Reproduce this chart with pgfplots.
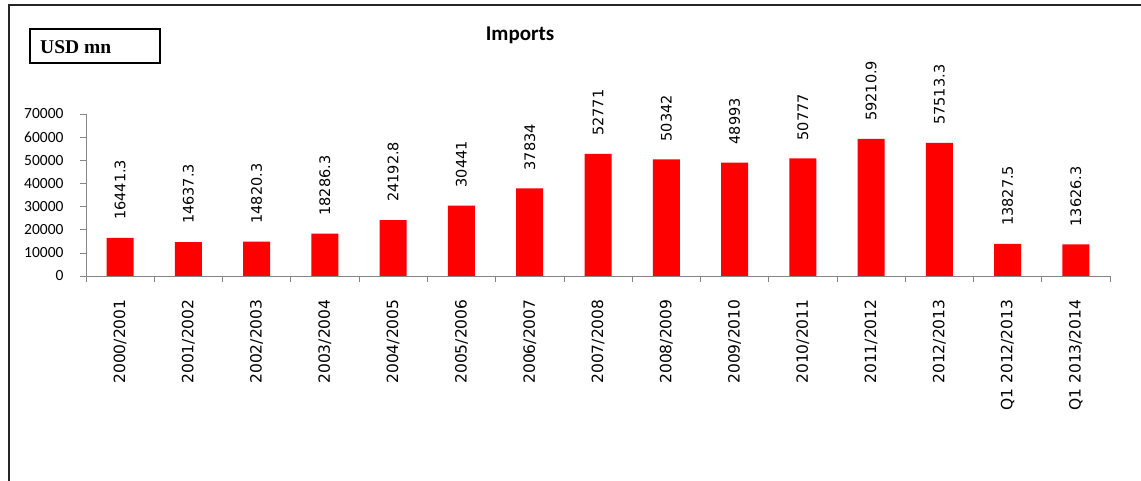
\documentclass[border=0pt]{standalone}
\usepackage{fontspec}
\setmainfont{Liberation Serif}
\newfontfamily\dejavu{DejaVu Sans}
\newfontfamily\carlito{Carlito}
\usepackage{pgfplots}
\pgfplotsset{compat=1.18}
\definecolor{axgray}{RGB}{134,134,134}
\begin{document}
\begin{tikzpicture}
\useasboundingbox (0pt,0pt) rectangle (1141pt,481pt);
\draw[line width=1.6pt, black!85] (9pt,-5pt) -- (9pt,476pt) -- (1150pt,476pt);
\draw[line width=1.2pt] (30pt,418pt) rectangle (160pt,452pt);
\node[anchor=west, font=\bfseries\fontsize{19.5}{22}\selectfont, inner sep=0] at (40pt,434pt) {USD mn};
\node[font=\carlito\bfseries\fontsize{21}{24}\selectfont] at (520pt,446pt) {Imports};
\begin{axis}[
  at={(86pt,205pt)}, anchor=south west,
  scale only axis, width=1024pt, height=162pt,
  xmin=-0.5, xmax=14.5, ymin=0, ymax=70000,
  ytick={0,10000,...,70000},
  scaled y ticks=false,
  yticklabel style={/pgf/number format/1000 sep={}, /pgf/number format/assume math mode=true, font=\carlito\fontsize{15.5}{17}\selectfont},
  yticklabel shift=13pt,
  xtick={0,...,14},
  xticklabels={2000/2001,2001/2002,2002/2003,2003/2004,2004/2005,2005/2006,2006/2007,2007/2008,2008/2009,2009/2010,2010/2011,2011/2012,2012/2013,Q1 2012/2013,Q1 2013/2014},
  xticklabel style={rotate=90, anchor=east, font=\dejavu\fontsize{15.5}{17}\selectfont},
  xticklabel shift=14pt,
  major x tick style={draw=none},
  minor xtick={-0.5,0.5,...,14.5},
  tick align=outside,
  tick style={axgray, line width=0.7pt},
  major tick length=6pt, minor tick length=6pt,
  axis x line*=bottom, axis y line*=left,
  axis line style={axgray, line width=0.8pt},
  ybar, bar width=27pt,
  nodes near coords, point meta=explicit symbolic,
  every node near coord/.append style={rotate=90, anchor=west, font=\dejavu\fontsize{14.5}{16}\selectfont, inner xsep=18pt, black},
]
\addplot[fill=red, draw=none] coordinates {
(0,16441.3) [16441.3]
(1,14637.3) [14637.3]
(2,14820.3) [14820.3]
(3,18286.3) [18286.3]
(4,24192.8) [24192.8]
(5,30441) [30441]
(6,37834) [37834]
(7,52771) [52771]
(8,50342) [50342]
(9,48993) [48993]
(10,50777) [50777]
(11,59210.9) [59210.9]
(12,57513.3) [57513.3]
(13,13827.5) [13827.5]
(14,13626.3) [13626.3]
};
\end{axis}
\end{tikzpicture}
\end{document}
